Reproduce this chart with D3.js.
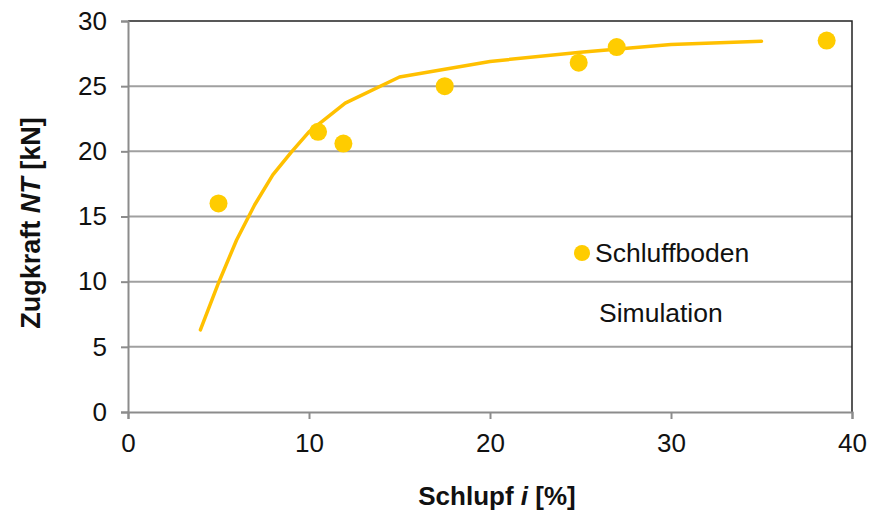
<!DOCTYPE html>
<html>
<head>
<meta charset="utf-8">
<script src="https://cdn.jsdelivr.net/npm/d3@7"></script>
<style>
  body { margin: 0; background: #fff; }
  svg { font-family: "Liberation Sans", Arial, sans-serif; }
</style>
</head>
<body>
<svg width="872" height="514"></svg>
<script>
// measured points (Schluffboden)
var messX = [5, 10.5, 11.9, 17.5, 24.9, 27, 38.6];
var messY = [16, 21.5, 20.6, 25, 26.8, 28.0, 28.5];

// simulation curve
var simX = [4, 5, 6, 7, 8, 9, 10, 12, 15, 20, 25, 30, 35];
var simY = [6.3, 9.9, 13.2, 15.9, 18.2, 19.9, 21.5, 23.7, 25.7, 26.9, 27.6, 28.2, 28.45];

var xTicks = [0, 10, 20, 30, 40];
var yTicks = [0, 5, 10, 15, 20, 25, 30];

var margin = {left: 128, right: 20, top: 21, bottom: 102};
var width = 872, height = 514;

var svg = d3.select('svg');

var x = d3.scaleLinear().domain([0, 40]).range([margin.left, width - margin.right]);
var y = d3.scaleLinear().domain([0, 30]).range([height - margin.bottom, margin.top]);

// gridlines
svg.append('g')
  .selectAll('line')
  .data(yTicks.slice(1, -1))
  .enter()
  .append('line')
  .attr('x1', x(0)).attr('x2', x(40))
  .attr('y1', function(d) { return y(d); })
  .attr('y2', function(d) { return y(d); })
  .attr('stroke', '#a0a0a0')
  .attr('stroke-width', 2);

// frame top + right
svg.append('path')
  .attr('d', 'M' + x(0) + ',' + y(30) + 'H' + x(40) + 'V' + y(0))
  .attr('fill', 'none')
  .attr('stroke', '#222')
  .attr('stroke-width', 1.5);

var axisLeft = d3.axisLeft(y).tickValues(yTicks).tickSize(7).tickPadding(14);
var axisBottom = d3.axisBottom(x).tickValues(xTicks).tickSize(7).tickPadding(15);

var gy = svg.append('g')
  .attr('transform', 'translate(' + x(0) + ',0)')
  .call(axisLeft);
var gx = svg.append('g')
  .attr('transform', 'translate(0,' + y(0) + ')')
  .call(axisBottom);

[gx, gy].forEach(function(g) {
  g.select('.domain').attr('stroke', '#8c8c8c').attr('stroke-width', 2);
  g.selectAll('.tick line').attr('stroke', '#8c8c8c').attr('stroke-width', 2);
  g.selectAll('.tick text')
    .attr('fill', '#111')
    .style('font-size', '26px')
    .style('font-family', '"Liberation Sans", Arial, sans-serif');
});

// simulation line
var line = d3.line()
  .x(function(d) { return x(d[0]); })
  .y(function(d) { return y(d[1]); });

svg.append('path')
  .datum(d3.zip(simX, simY))
  .attr('d', line)
  .attr('fill', 'none')
  .attr('stroke', '#FFC000')
  .attr('stroke-width', 3.5)
  .attr('stroke-linecap', 'round')
  .attr('stroke-linejoin', 'round');

// measured dots
svg.append('g')
  .selectAll('circle')
  .data(d3.zip(messX, messY))
  .enter()
  .append('circle')
  .attr('cx', function(d) { return x(d[0]); })
  .attr('cy', function(d) { return y(d[1]); })
  .attr('r', 9)
  .attr('fill', '#FFCC00');

// legend
svg.append('circle')
  .attr('cx', 582).attr('cy', 253).attr('r', 8)
  .attr('fill', '#FFCC00');
svg.append('text')
  .attr('x', 595).attr('y', 262)
  .style('font-size', '26.5px')
  .attr('fill', '#111')
  .text('Schluffboden');
svg.append('text')
  .attr('x', 599).attr('y', 322)
  .style('font-size', '26.5px')
  .attr('fill', '#111')
  .text('Simulation');

// text label for the x axis
var xt = svg.append('text')
  .attr('x', 497).attr('y', 505)
  .style('text-anchor', 'middle')
  .style('font-size', '26px')
  .style('font-weight', 'bold')
  .attr('fill', '#111');
xt.append('tspan').text('Schlupf ');
xt.append('tspan').style('font-style', 'italic').text('i');
xt.append('tspan').text(' [%]');

// text label for the y axis
var yt = svg.append('text')
  .attr('transform', 'translate(40,' + 223 + ') rotate(-90)')
  .style('text-anchor', 'middle')
  .style('font-size', '27px')
  .style('font-weight', 'bold')
  .attr('fill', '#111');
yt.append('tspan').text('Zugkraft ');
yt.append('tspan').style('font-style', 'italic').text('NT');
yt.append('tspan').text(' [kN]');
</script>
</body>
</html>
